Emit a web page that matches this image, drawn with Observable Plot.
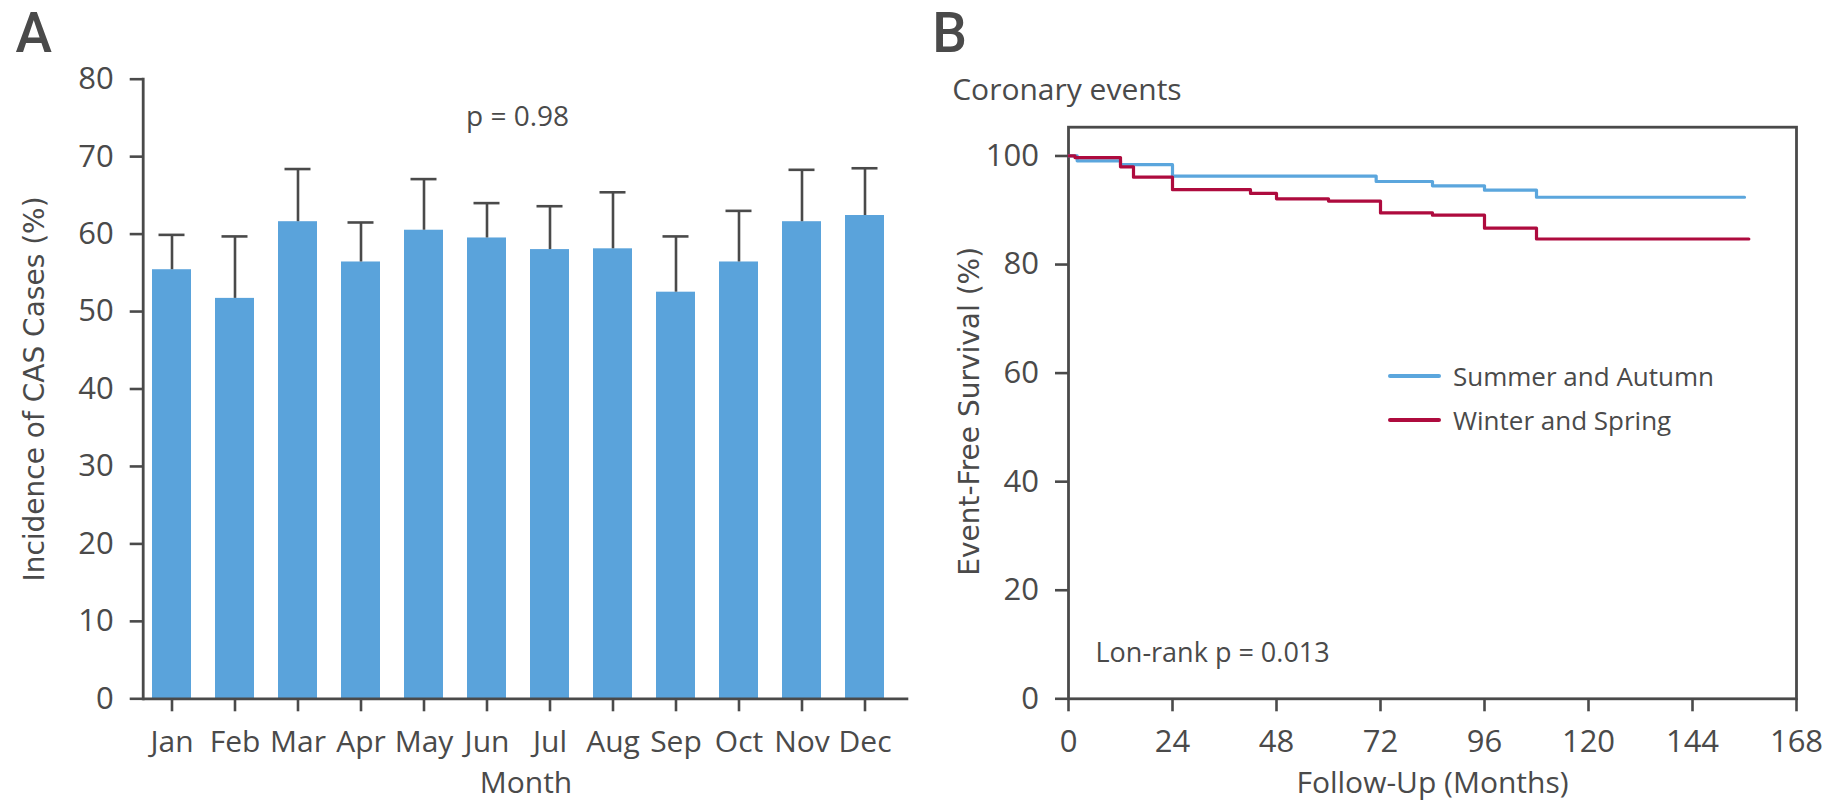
<!DOCTYPE html>
<html>
<head>
<meta charset="utf-8">
<script src="https://cdn.jsdelivr.net/npm/d3@7"></script>
<script src="https://cdn.jsdelivr.net/npm/@observablehq/plot@0.6"></script>
<style>
  html, body { margin: 0; padding: 0; background: #fff; }
  #wrap { position: relative; width: 1841px; height: 802px; overflow: hidden; }
  #panelA { position: absolute; left: 0; top: 0; width: 920px; }
  #panelB { position: absolute; left: 920px; top: 0; width: 921px; }
  #legend { position: absolute; left: 1388px; top: 363px; font-family: "Open Sans", sans-serif; font-size: 26px; color: #4a4a4a; }
  #legend .row { display: flex; align-items: center; height: 26px; line-height: 26px; margin-bottom: 18px; white-space: nowrap; }
  #legend .sw { display: inline-block; width: 53px; margin-right: 12px; border-radius: 2px; }
</style>
</head>
<body>
<div id="wrap">
  <div id="panelA"></div>
  <div id="panelB"></div>
  <div id="legend"></div>
</div>
<script>
// Panel A: monthly incidence of coronary artery spasm (mean with upper error)
const months = ["Jan", "Feb", "Mar", "Apr", "May", "Jun", "Jul", "Aug", "Sep", "Oct", "Nov", "Dec"];
const incidence = [55.4, 51.7, 61.6, 56.4, 60.5, 59.5, 58.0, 58.1, 52.5, 56.4, 61.6, 62.4];
const incidenceUpper = [59.9, 59.7, 68.4, 61.5, 67.1, 64.0, 63.6, 65.4, 59.7, 63.0, 68.3, 68.5];
const incidenceTicks = [0, 10, 20, 30, 40, 50, 60, 70, 80];

// Panel B: Kaplan-Meier event-free survival by season of onset
const seriesNames = ["Summer and Autumn", "Winter and Spring"];
const seriesColors = ["#5ba6dd", "#ae0b3e"];
const summerMonths = [0, 2, 12, 24, 71, 84, 96, 108, 156];
const summerSurvival = [100, 99.1, 98.4, 96.3, 95.3, 94.5, 93.7, 92.4, 92.4];
const winterMonths = [0, 1.5, 12, 15, 24, 42, 48, 60, 72, 84, 96, 108, 157];
const winterSurvival = [100, 99.7, 98.0, 96.1, 93.8, 93.1, 92.1, 91.7, 89.5, 89.1, 86.7, 84.7, 84.7];
const followUpTicks = [0, 24, 48, 72, 96, 120, 144, 168];
const survivalTicks = [0, 20, 40, 60, 80, 100];

const ink = "#4a4a4a";
const sans = "'Open Sans', 'Noto Sans', sans-serif";
const wide = "'DejaVu Sans', sans-serif";
const panelFont = "Roboto, 'Open Sans', sans-serif";

const bars = months.map((m, i) => ({month: m, value: incidence[i], upper: incidenceUpper[i]}));

const plotA = Plot.plot({
  width: 920,
  height: 802,
  marginLeft: 142.7,
  marginRight: 11.7,
  marginTop: 78.7,
  marginBottom: 103.7,
  style: {fontFamily: sans, fontSize: "30px", color: ink, background: "transparent", overflow: "visible"},
  x: {domain: months, paddingInner: 0.383, paddingOuter: 0.2485, align: 0.287, label: null},
  y: {domain: [0, 80], label: null},
  marks: [
    Plot.barY(bars, {x: "month", y: "value", fill: "#5aa3db"}),
    Plot.ruleX(bars, {x: "month", y1: "value", y2: "upper", stroke: ink, strokeWidth: 2.6}),
    Plot.tickY(bars, {x: "month", y: "upper", stroke: ink, strokeWidth: 2.6, inset: 6.5}),
    Plot.ruleY([0], {stroke: ink, strokeWidth: 2.8}),
    Plot.frame({anchor: "left", stroke: ink, strokeWidth: 2.8}),
    Plot.axisY({ticks: incidenceTicks, tickSize: 13, tickPadding: 16.5, strokeWidth: 2.6, fontSize: 31, label: null}),
    Plot.axisX({tickSize: 13, tickPadding: 19, strokeWidth: 2.6, fontSize: 30, label: null}),
    Plot.text(["Month"], {frameAnchor: "bottom", textAnchor: "middle", lineAnchor: "middle", dy: 85, fontSize: 30}),
    Plot.text(["Incidence of CAS Cases (%)"], {frameAnchor: "left", textAnchor: "middle", lineAnchor: "middle", rotate: -90, dx: -107.7, fontFamily: wide, fontSize: 28}),
    Plot.text(["p = 0.98"], {frameAnchor: "top-left", textAnchor: "start", lineAnchor: "middle", dx: 322.8, dy: 37.7, fontSize: 28}),
    Plot.text(["A"], {frameAnchor: "top-left", textAnchor: "start", lineAnchor: "middle", dx: -127.7, dy: -44.8, fontFamily: panelFont, fontSize: 55, fontWeight: 500})
  ]
});
document.getElementById("panelA").append(plotA);

const summer = summerMonths.map((t, i) => ({t, s: summerSurvival[i]}));
const winter = winterMonths.map((t, i) => ({t, s: winterSurvival[i]}));

const plotB = Plot.plot({
  width: 921,
  height: 802,
  marginLeft: 148,
  marginRight: 45,
  marginTop: 126.7,
  marginBottom: 103.7,
  style: {fontFamily: sans, fontSize: "30px", color: ink, background: "transparent", overflow: "visible"},
  x: {domain: [0, 168], label: null},
  y: {domain: [0, 105.3], label: null},
  marks: [
    Plot.frame({stroke: ink, strokeWidth: 2.8}),
    Plot.line(summer, {x: "t", y: "s", curve: "step-after", stroke: seriesColors[0], strokeWidth: 3.2}),
    Plot.line(winter, {x: "t", y: "s", curve: "step-after", stroke: seriesColors[1], strokeWidth: 3.2}),
    Plot.axisY({ticks: survivalTicks, tickSize: 13, tickPadding: 16.5, strokeWidth: 2.6, fontSize: 31, label: null}),
    Plot.axisX({ticks: followUpTicks, tickSize: 13, tickPadding: 18.4, strokeWidth: 2.6, fontSize: 31, label: null}),
    Plot.text(["Follow-Up (Months)"], {frameAnchor: "bottom", textAnchor: "middle", lineAnchor: "middle", dy: 85, fontSize: 30}),
    Plot.text(["Event-Free Survival (%)"], {frameAnchor: "left", textAnchor: "middle", lineAnchor: "middle", rotate: -90, dx: -98, dy: -1.7, fontFamily: wide, fontSize: 28}),
    Plot.text(["Lon-rank p = 0.013"], {frameAnchor: "bottom-left", textAnchor: "start", lineAnchor: "middle", dx: 27, dy: -45.3, fontSize: 27}),
    Plot.text(["B"], {frameAnchor: "top-left", textAnchor: "start", lineAnchor: "middle", dx: -136.3, dy: -92.8, fontFamily: panelFont, fontSize: 55, fontWeight: 500}),
    Plot.text(["Coronary events"], {frameAnchor: "top-left", textAnchor: "start", lineAnchor: "middle", dx: -116.3, dy: -37, fontSize: 30})
  ]
});
document.getElementById("panelB").append(plotB);

// Legend for the two survival curves
const legend = document.getElementById("legend");
seriesNames.forEach((name, i) => {
  const row = document.createElement("div");
  row.className = "row";
  const sw = document.createElement("span");
  sw.className = "sw";
  sw.style.background = seriesColors[i];
  sw.style.height = i === 0 ? "3.5px" : "4.5px";
  const label = document.createElement("span");
  label.textContent = name;
  row.append(sw, label);
  legend.append(row);
});
</script>
</body>
</html>
